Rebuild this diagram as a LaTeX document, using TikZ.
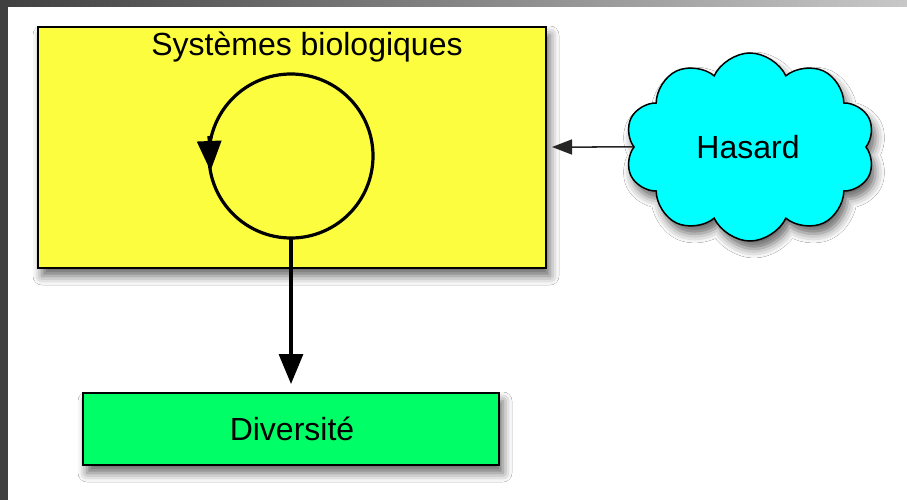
\documentclass[tikz,border=0pt]{standalone}
\usepackage{fontspec}
\setmainfont{Liberation Sans}
\usetikzlibrary{shapes.symbols,arrows.meta,shadows.blur,calc}
\definecolor{sysyellow}{HTML}{FDFD40}
\definecolor{divgreen}{HTML}{00FF66}
\definecolor{hascyan}{HTML}{00FFFF}
\definecolor{framedark}{HTML}{404040}
\definecolor{framelight}{HTML}{C8C8C8}
\begin{document}
\begin{tikzpicture}[x=1pt,y=-1pt,
  softshadow/.style={blur shadow={shadow xshift=4pt, shadow yshift=-8pt, shadow blur radius=9pt, shadow opacity=60}},
  box/.style={draw=black, line width=2pt, inner sep=0pt, softshadow},
  lbl/.style={font=\fontsize{32}{38}\selectfont, inner sep=0pt},
  bigarrow/.style={line width=3.2pt, -{Triangle[length=30pt,width=24pt]}},
  smallarrow/.style={line width=1.5pt, draw=black!85, -{Triangle[length=20pt,width=15pt]}}]
\useasboundingbox (0,0) rectangle (907,500);
% frame
\fill[white] (0,0) rectangle (907,500);
\shade[left color=framedark, right color=framelight] (0,0) rectangle (907,7);
\fill[framedark] (0,0) rectangle (8,500);
% nodes
\node[box, fill=sysyellow, minimum width=508pt, minimum height=241pt] (sys) at (292,147.5) {};
\node[lbl] (systitle) at (307,47) {Systèmes biologiques};
\node[box, fill=divgreen, minimum width=416pt, minimum height=72pt] (div) at (291,429) {};
\node[lbl] (divtext) at (292,429) {Diversité};
\node[cloud, cloud puffs=10, cloud puff arc=130, cloud ignores aspect, minimum width=250pt, minimum height=188pt, draw=black, line width=1.5pt, fill=hascyan, softshadow, inner sep=0pt] (hasard) at (750,147) {};
\node[lbl] (hastext) at (748,147) {Hasard};
\node[circle, draw=black, line width=3.2pt, minimum size=164pt, inner sep=0pt, outer sep=0pt] (loop) at (291,156) {};
% connectors
\draw[bigarrow] ($(loop.west)+(0,-20)$) -- ($(loop.west)+(1.5,15)$);
\draw[bigarrow, shorten >=8pt] (loop.south) -- (div.north);
\draw[smallarrow, shorten >=5pt] (hasard) -- (sys.east |- hasard);
\end{tikzpicture}
\end{document}
